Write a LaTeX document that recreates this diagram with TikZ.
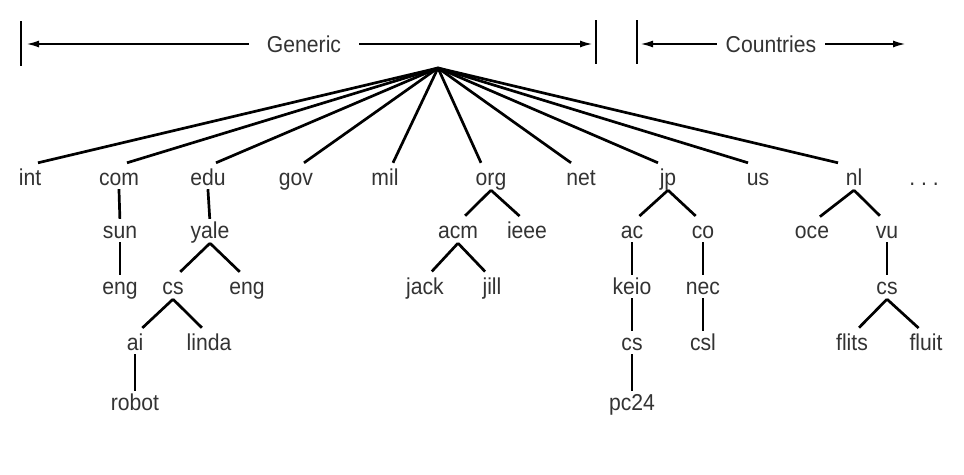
\documentclass[tikz,border=0pt]{standalone}
\usepackage{fontspec}
\newfontfamily\labfont[FakeStretch=0.92]{Liberation Sans}
\usetikzlibrary{arrows.meta,calc}
\definecolor{textgray}{HTML}{333333}
\tikzset{
  lab/.style={font={\labfont\fontsize{23}{26}\selectfont}, text=textgray, inner sep=0pt, text height=15pt, text depth=5pt, anchor=base},
  head/.style={font={\labfont\fontsize{23}{26}\selectfont}, text=textgray, inner ysep=0pt, anchor=center},
  tedge/.style={line width=2.7pt, black},
  vedge/.style={tedge, shorten >=4pt, shorten <=-1pt},
  sedge/.style={tedge, shorten >=10pt},
  hline/.style={line width=1.2pt, black},
  harrow/.style={hline, -{Latex[length=12pt,width=7pt]}},
  bar/.style={line width=1.5pt, black}
}
\begin{document}
\begin{tikzpicture}[x=1pt,y=-1pt]
\useasboundingbox[fill=white] (0,0) rectangle (964,474);
% header
\coordinate (b1t) at (21,21); \coordinate (b1b) at (21,66);
\coordinate (b2t) at (596,20); \coordinate (b2b) at (596,64);
\coordinate (b3t) at (637,20); \coordinate (b3b) at (637,64);
\coordinate (gtipL) at (27,44); \coordinate (gtipR) at (592,44);
\coordinate (ctipL) at (641,44); \coordinate (ctipR) at (905,44);
\draw[bar] (b1t) -- (b1b);
\draw[bar] (b2t) -- (b2b);
\draw[bar] (b3t) -- (b3b);
\node[head, inner xsep=18pt] (generic) at (304,44) {Generic};
\node[head, inner xsep=9pt] (countries) at (771,44) {Countries};
\draw[harrow] (generic.west) -- (gtipL);
\draw[harrow] (generic.east) -- (gtipR);
\draw[harrow] (countries.west) -- (ctipL);
\draw[harrow] (countries.east) -- (ctipR);
% root
\coordinate (root) at (438,68);
% level 1
\node[lab] (int) at (30,185) {int};
\node[lab] (com) at (119,185) {com};
\node[lab] (edu) at (208,185) {edu};
\node[lab] (gov) at (296,185) {gov};
\node[lab] (mil) at (385,185) {mil};
\node[lab] (org) at (491,185) {org};
\node[lab] (net) at (581,185) {net};
\node[lab] (jp) at (668,185) {jp};
\node[lab] (us) at (758,185) {us};
\node[lab] (nl) at (854,185) {nl};
\node[lab] (dots) at (924,185) {.\ .\ .};
% level 2
\node[lab] (sun) at (120,238) {sun};
\node[lab] (yale) at (210,238) {yale};
\node[lab] (acm) at (458,238) {acm};
\node[lab] (ieee) at (527,238) {ieee};
\node[lab] (ac) at (632,238) {ac};
\node[lab] (co) at (703,238) {co};
\node[lab] (oce) at (812,238) {oce};
\node[lab] (vu) at (887,238) {vu};
% level 3
\node[lab] (engA) at (120,294) {eng};
\node[lab] (csA) at (173,294) {cs};
\node[lab] (engB) at (247,294) {eng};
\node[lab] (jack) at (425,294) {jack};
\node[lab] (jill) at (492,294) {jill};
\node[lab] (keio) at (632,294) {keio};
\node[lab] (nec) at (703,294) {nec};
\node[lab] (csC) at (887,294) {cs};
% level 4
\node[lab] (ai) at (135,350) {ai};
\node[lab] (linda) at (209,350) {linda};
\node[lab] (csB) at (632,350) {cs};
\node[lab] (csl) at (703,350) {csl};
\node[lab] (flits) at (852,350) {flits};
\node[lab] (fluit) at (926,350) {fluit};
% level 5
\node[lab] (robot) at (135,410) {robot};
\node[lab] (pc) at (632,410) {pc24};
% root edges
\foreach \n in {int,com,edu,gov,mil}
  \draw[tedge] (root) -- ($(\n.north)+(8,-7)$);
\foreach \n in {org,net,jp,us}
  \draw[tedge] (root) -- ($(\n.north)+(-10,-7)$);
\draw[tedge] (root) -- ($(nl.north)+(-16,-7)$);
% subtree edges
\draw[vedge] (com.south) -- (sun.north);
\draw[vedge] (sun.south) -- (engA.north);
\draw[vedge] (edu.south) -- (yale.north);
\draw[sedge] (yale.south) -- (csA.north);
\draw[sedge] (yale.south) -- (engB.north);
\draw[sedge] (csA.south) -- (ai.north);
\draw[sedge] (csA.south) -- (linda.north);
\draw[vedge] (ai.south) -- (robot.north);
\draw[sedge] (org.south) -- (acm.north);
\draw[sedge] (org.south) -- (ieee.north);
\draw[sedge] (acm.south) -- (jack.north);
\draw[sedge] (acm.south) -- (jill.north);
\draw[sedge] (jp.south) -- (ac.north);
\draw[sedge] (jp.south) -- (co.north);
\draw[vedge] (ac.south) -- (keio.north);
\draw[vedge] (keio.south) -- (csB.north);
\draw[vedge] (csB.south) -- (pc.north);
\draw[vedge] (co.south) -- (nec.north);
\draw[vedge] (nec.south) -- (csl.north);
\draw[sedge] (nl.south) -- (oce.north);
\draw[sedge] (nl.south) -- (vu.north);
\draw[vedge] (vu.south) -- (csC.north);
\draw[sedge] (csC.south) -- (flits.north);
\draw[sedge] (csC.south) -- (fluit.north);
\end{tikzpicture}
\end{document}
